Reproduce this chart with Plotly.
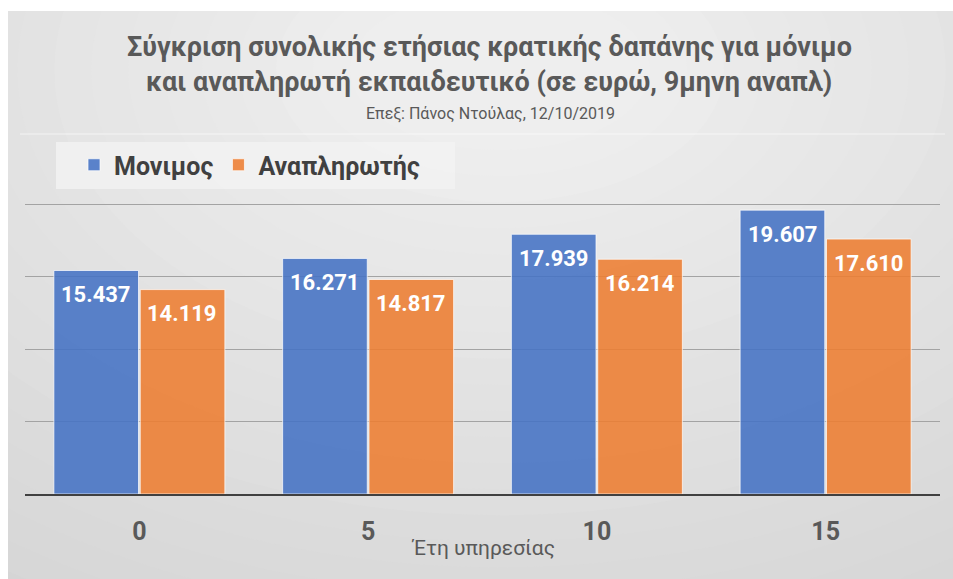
import plotly.graph_objects as go

# ---- data ----
categories = ["0", "5", "10", "15"]
monimos = [15437, 16271, 17939, 19607]
anaplirotis = [14119, 14817, 16214, 17610]
series_names = ["Μονιμος", "Αναπληρωτής"]
title_line1 = "Σύγκριση συνολικής ετήσιας κρατικής δαπάνης για μόνιμο"
title_line2 = "και αναπληρωτή εκπαιδευτικό (σε ευρώ, 9μηνη αναπλ)"
subtitle = "Επεξ: Πάνος Ντούλας, 12/10/2019"
x_title = "Έτη υπηρεσίας"

W, H = 953, 579
ML, MR, MT, MB = 25, 13, 203, 85
PW = W - ML - MR
PH = H - MT - MB


def px(x):
    return (x - ML) / PW


def py(y):
    return (H - MB - y) / PH


FONT = "Roboto"
BLUE = "rgba(68,114,196,0.88)"
ORANGE = "rgba(237,125,49,0.88)"

fig = go.Figure()
fig.add_trace(go.Bar(
    x=categories, y=monimos, name=series_names[0],
    marker=dict(color=BLUE, line=dict(color="rgba(255,255,255,0.7)", width=1)),
))
fig.add_trace(go.Bar(
    x=categories, y=anaplirotis, name=series_names[1],
    marker=dict(color=ORANGE, line=dict(color="rgba(255,255,255,0.7)", width=1)),
))

# ---- background (soft radial gradient) ----
shapes = []
shapes.append(dict(type="rect", xref="paper", yref="paper", layer="below",
                   x0=px(8), x1=px(W + 5), y0=py(H + 5), y1=py(11),
                   fillcolor="#d0d0d0", line=dict(width=0)))
N = 24
cx, cy = 500, 70
for i in range(N):
    t = i / (N - 1)
    rx = 1000 - t * 850
    ry = 680 - t * 600
    g = int(round(0xd3 + t * (0xee - 0xd3)))
    col = f"rgb({g},{g},{g})"
    shapes.append(dict(type="circle", xref="paper", yref="paper", layer="below",
                       x0=px(cx - rx), x1=px(cx + rx), y0=py(cy + ry), y1=py(cy - ry),
                       fillcolor=col, line=dict(width=0)))
# white margins on top/left
shapes.append(dict(type="rect", xref="paper", yref="paper", layer="below",
                   x0=px(-20), x1=px(W + 20), y0=py(11), y1=py(-20),
                   fillcolor="white", line=dict(width=0)))
shapes.append(dict(type="rect", xref="paper", yref="paper", layer="below",
                   x0=px(-20), x1=px(8), y0=py(H + 20), y1=py(-20),
                   fillcolor="white", line=dict(width=0)))
# faint separator line
shapes.append(dict(type="line", xref="paper", yref="paper", layer="below",
                   x0=px(20), x1=px(945), y0=py(134), y1=py(134),
                   line=dict(color="rgba(255,255,255,0.6)", width=1)))
# legend background box
shapes.append(dict(type="rect", xref="paper", yref="paper", layer="below",
                   x0=px(56), x1=px(455), y0=py(189), y1=py(142),
                   fillcolor="rgba(243,243,243,0.8)", line=dict(width=0)))

annotations = []
annotations.append(dict(text=f"<b>{title_line1}</b>", xref="paper", yref="paper",
                        x=px(489), y=py(47), showarrow=False, xanchor="center", yanchor="middle",
                        font=dict(family=FONT, size=27, color="#595959")))
annotations.append(dict(text=f"<b>{title_line2}</b>", xref="paper", yref="paper",
                        x=px(489), y=py(82), showarrow=False, xanchor="center", yanchor="middle",
                        font=dict(family=FONT, size=27, color="#595959")))
annotations.append(dict(text=subtitle, xref="paper", yref="paper",
                        x=px(490), y=py(113), showarrow=False, xanchor="center", yanchor="middle",
                        font=dict(family=FONT, size=16, color="#595959")))
annotations.append(dict(text=x_title, xref="paper", yref="paper",
                        x=px(483), y=py(548), showarrow=False, xanchor="center", yanchor="middle",
                        font=dict(family=FONT, size=21, color="#595959")))

# value labels inside bar tops
for vals, shift in ((monimos, -43), (anaplirotis, 43)):
    for i, v in enumerate(vals):
        annotations.append(dict(
            x=i, y=v, xref="x", yref="y", text=f"<b>{v:,}</b>".replace(",", "."),
            showarrow=False, xshift=shift, yshift=-24, yanchor="middle",
            font=dict(family=FONT, size=22, color="white")))

fig.update_layout(
    width=W, height=H,
    margin=dict(l=ML, r=MR, t=MT, b=MB, autoexpand=False),
    paper_bgcolor="white",
    plot_bgcolor="rgba(0,0,0,0)",
    barmode="group", bargap=0.245, bargroupgap=0.02,
    shapes=shapes, annotations=annotations,
    showlegend=True,
    legend=dict(orientation="h", x=px(74), y=py(142), xanchor="left", yanchor="top",
                bgcolor="rgba(0,0,0,0)", borderwidth=0,
                font=dict(family=FONT, size=25, color="#404040", weight="bold"),
                itemwidth=30),
    xaxis=dict(type="category", range=[-0.5, 3.5], showline=True, linecolor="#404040",
               linewidth=2, showgrid=False, ticks="", ticklabelstandoff=14,
               automargin=False,
               tickfont=dict(family=FONT, size=25, color="#595959", weight="bold")),
    yaxis=dict(range=[0, 20100], dtick=5000, showticklabels=False, showgrid=True,
               gridcolor="#a3a3a3", gridwidth=1, zeroline=False, showline=False,
               automargin=False),
    font=dict(family=FONT),
)

fig.write_html("out.html", config={"displayModeBar": False},
               post_script="document.body.style.margin='0';")
